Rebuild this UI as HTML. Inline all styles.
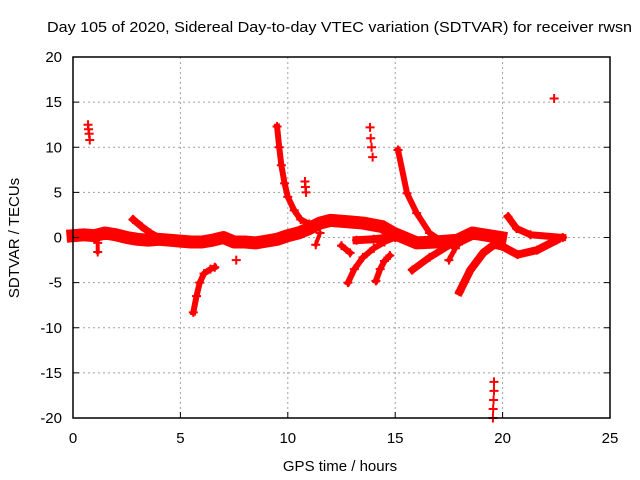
<!DOCTYPE html>
<html><head><meta charset="utf-8"><style>
body{margin:0;background:#fff;}
svg{display:block;font-family:"Liberation Sans",sans-serif;}
</style></head><body>
<svg id="chart" width="640" height="480">
<rect width="640" height="480" fill="#fff"/>
<text x="47" y="32" font-size="15" textLength="585" lengthAdjust="spacingAndGlyphs">Day 105 of 2020, Sidereal Day-to-day VTEC variation (SDTVAR) for receiver rwsn</text>
<text x="340" y="471" font-size="15" text-anchor="middle">GPS time / hours</text>
<text transform="translate(19,238) rotate(-90)" font-size="15" text-anchor="middle">SDTVAR / TECUs</text>
<g id="grid"></g><g id="marks"></g><g id="axes"></g>
</svg>
<script>
const xTicks=[0,5,10,15,20,25];
const yTicks=[-20,-15,-10,-5,0,5,10,15,20];
const trackMain=[[0,0.2],[0.5,0.3],[1,0.2],[1.5,0.5],[2,0.3],[2.5,0],[3,-0.2],[3.5,-0.3],[4,-0.2],[4.5,-0.3],[5,-0.4],[5.5,-0.5],[6,-0.5],[6.5,-0.3],[7,0],[7.5,-0.5],[8,-0.5],[8.5,-0.6],[9,-0.4],[9.5,-0.2],[10,0.2],[10.5,0.5],[11,1],[11.5,1.6],[12,1.9],[13,1.7],[13.5,1.6],[14.4,1.2],[14.9,0.5],[16,-0.6],[16.9,-0.5],[17.9,-0.3],[18.6,0.5],[19.9,0]];
const trackBranch=[[2.8,2],[3.2,1.2],[3.6,0.5],[4,0],[4.5,-0.3]];
const trackDip=[[5.6,-8.3],[5.75,-6.5],[5.9,-5],[6.1,-4],[6.4,-3.5],[6.6,-3.3]];
const trackPeak1=[[9.5,12.3],[9.6,10],[9.7,8],[9.85,6],[10,4.5],[10.3,3],[10.6,2],[11,1.5]];
const trackF=[[12.8,-5],[13.1,-3.5],[13.5,-2.2],[14,-1.2],[14.5,-0.5],[15,0]];
const trackMid=[[13.2,-0.3],[14,-0.2],[14.7,0]];
const trackH=[[14.1,-4.8],[14.3,-3.5],[14.5,-2.6],[14.75,-2]];
const trackPeak2=[[15.13,9.7],[15.55,4.9],[16,2.7],[16.6,0.5],[17.1,-0.3]];
const trackLow=[[15.8,-3.6],[16.6,-2.2],[17.7,-0.6],[18.2,0]];
const trackLow2=[[17.5,-2.5],[17.8,-1.2],[18.1,-0.4]];
const trackDip2=[[18,-6],[18.5,-3.6],[19.1,-1.7],[19.6,-0.8],[20,-1],[20.7,-1.9],[21.6,-1.4],[22.5,-0.3]];
const trackLate=[[20.25,2.3],[20.65,1],[21.3,0.3],[22.8,0]];
const trackSmall=[[12.5,-0.9],[12.9,-1.7]];
const trackSmall2=[[1.15,-0.6],[1.15,-1.6]];
const trackSmall3=[[11.3,-0.8],[11.5,0.5]];
const clusterA=[[0.7,12.5],[0.72,12],[0.75,11.5],[0.78,10.8]];
const clusterB=[[10.8,6.2],[10.82,5.6],[10.85,5]];
const clusterC=[[13.83,12.2],[13.86,11],[13.9,10],[13.95,8.9]];
const clusterD=[[19.6,-16],[19.6,-17],[19.58,-18],[19.56,-19],[19.55,-20]];
const singles=[[7.6,-2.5],[22.4,15.4]];
const tracks=[[trackMain,13],[trackBranch,7],[trackDip,6],[trackPeak1,6],[trackF,6],[trackMid,8],[trackH,6],[trackPeak2,6],[trackLow,7],[trackLow2,5],[trackDip2,8],[trackLate,7],[trackSmall,6],[trackSmall2,4],[trackSmall3,4]];
const clusters=[clusterA,clusterB,clusterC,clusterD,singles];
const X0=73,X1=610,Y0=418,Y1=57;
function sx(h){return X0+(h-0)/(25-0)*(X1-X0);}
function sy(v){return Y0-(v+20)/40*(Y0-Y1);}
const NS='http://www.w3.org/2000/svg';
const grid=document.getElementById('grid'),marks=document.getElementById('marks'),axes=document.getElementById('axes');
function mk(t,a,p){const e=document.createElementNS(NS,t);for(const k in a)e.setAttribute(k,a[k]);p.appendChild(e);return e;}
xTicks.forEach(t=>{
 if(t>0&&t<25){const g=mk('line',{x1:sx(t),x2:sx(t),y1:Y1,y2:Y0,stroke:'#a0a0a0','stroke-dasharray':'2,3'},grid);
 
 }
 const tk=mk('line',{x1:sx(t),x2:sx(t),y1:Y0,y2:Y0-6,stroke:'#000'},axes);
 
 
 const lb=mk('text',{x:sx(t),y:443,'font-size':15,'text-anchor':'middle'},axes);lb.textContent=t;
 
 
});
yTicks.forEach(t=>{
 if(t>-20&&t<20){const g=mk('line',{x1:X0,x2:X1,y1:sy(t),y2:sy(t),stroke:'#a0a0a0','stroke-dasharray':'2,3'},grid);
 
 }
 const tk=mk('line',{x1:X0,x2:X0+6,y1:sy(t),y2:sy(t),stroke:'#000'},axes);
 
 
 const tk2=mk('line',{x1:X1,x2:X1-6,y1:sy(t),y2:sy(t),stroke:'#000'},axes);
 
 
 const lb=mk('text',{x:62,y:sy(t)+5,'font-size':15,'text-anchor':'end'},axes);lb.textContent=t;
 
 
});
const frame=mk('rect',{x:X0,y:Y1,width:X1-X0,height:Y0-Y1,fill:'none',stroke:'#000','stroke-width':1.5},axes);


function plus(h,v){const x=sx(h),y=sy(v);const p=mk('path',{d:`M${x-4.5},${y}H${x+4.5}M${x},${y-4.5}V${y+4.5}`,stroke:'#f00','stroke-width':2,fill:'none'},marks);
 
 }
tracks.forEach(([arr,w])=>{
 const pl=mk('polyline',{points:arr.map(d=>sx(d[0])+','+sy(d[1])).join(' '),fill:'none',stroke:'#f00','stroke-width':w,'stroke-linejoin':'round','stroke-linecap':'square'},marks);
 
 
 arr.forEach(d=>plus(d[0],d[1]));
});
clusters.forEach(arr=>arr.forEach(d=>plus(d[0],d[1])));
</script>
</body></html>
